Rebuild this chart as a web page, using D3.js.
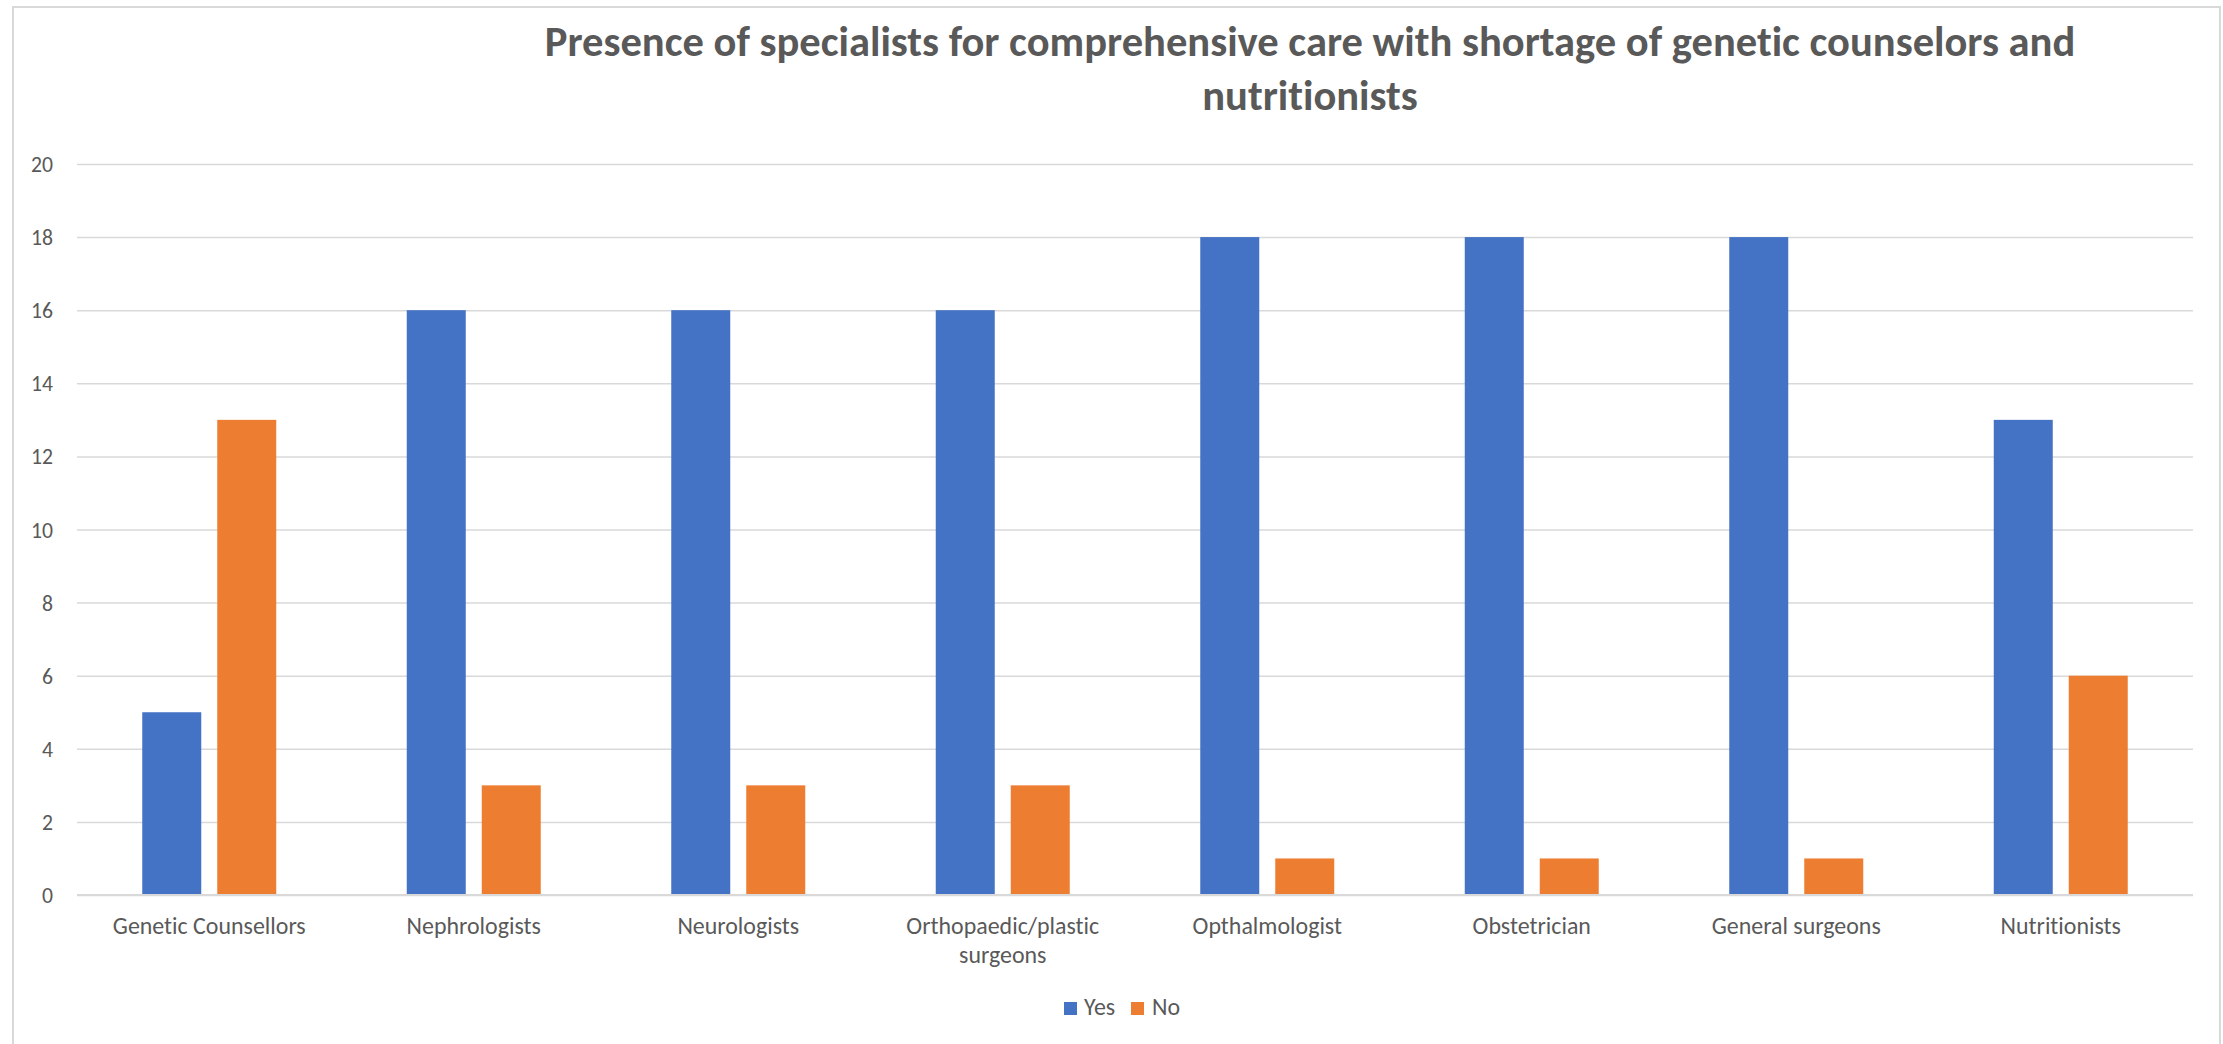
<!DOCTYPE html>
<html>
<head>
<meta charset="utf-8">
<script src="https://cdn.jsdelivr.net/npm/d3@7"></script>
<style>
  html, body { margin: 0; padding: 0; background: #ffffff; }
  svg { display: block; }
  svg text { font-variant-ligatures: none; font-feature-settings: "liga" 0, "clig" 0; }
</style>
</head>
<body>
<svg id="chart" width="2223" height="1044"></svg>
<script>
// ---- data ----
const categories = ["Genetic Counsellors", "Nephrologists", "Neurologists", "Orthopaedic/plastic surgeons", "Opthalmologist", "Obstetrician", "General surgeons", "Nutritionists"];
const seriesNames = ["Yes", "No"];
const yesValues = [5, 16, 16, 16, 18, 18, 18, 13];
const noValues = [13, 3, 3, 3, 1, 1, 1, 6];
const yTicks = [0, 2, 4, 6, 8, 10, 12, 14, 16, 18, 20];
const titleLines = ["Presence of specialists for comprehensive care with shortage of genetic counselors and", "nutritionists"];

// ---- layout / style ----
const W = 2223, H = 1044;
const plot = { left: 77, right: 2193, top: 164, bottom: 895 };
const colors = { Yes: "#4472C4", No: "#ED7D31" };
const textColor = "#595959";
const gridColor = "#d9d9d9";
const FONT = "Carlito, Calibri, Lato, 'Open Sans', sans-serif";

const svg = d3.select("#chart");

// chart border
svg.append("rect")
  .attr("x", 13).attr("y", 7).attr("width", 2207).attr("height", 1060)
  .attr("fill", "#ffffff").attr("stroke", gridColor).attr("stroke-width", 2);

// helper: scale font size so a given sample text matches a target width
function fitSize(text, weight, baseSize, targetWidth) {
  const t = svg.append("text").attr("font-family", FONT).attr("font-weight", weight)
    .attr("font-size", baseSize).text(text);
  const w = t.node().getComputedTextLength();
  t.remove();
  return baseSize * targetWidth / w;
}

const titleSize = Math.min(44, fitSize(titleLines[0], "bold", 40, 1531));
const labelSize = Math.min(24, fitSize("Genetic Counsellors", "normal", 20, 193));
const tickSize = Math.min(24, fitSize("20", "normal", 20, 22));

// ---- scales ----
const data = categories.map((c, i) => ({ cat: c, Yes: yesValues[i], No: noValues[i] }));

const x0 = d3.scaleBand().domain(categories).range([plot.left, plot.right])
  .paddingInner(0.4934).paddingOuter(0.2467);
const x1 = d3.scaleBand().domain(seriesNames).range([0, x0.bandwidth()])
  .paddingInner(0.2133).paddingOuter(0);
const y = d3.scaleLinear().domain([0, 20]).range([plot.bottom, plot.top]);

// ---- grid ----
const yAxis = d3.axisLeft(y).tickValues(yTicks).tickSize(-(plot.right - plot.left)).tickPadding(24).tickFormat(d3.format("d"));
const gy = svg.append("g").attr("transform", `translate(${plot.left},0)`).call(yAxis);
gy.select(".domain").remove();
gy.selectAll(".tick line").attr("stroke", gridColor).attr("stroke-width", 1.5);
gy.selectAll(".tick text").attr("fill", textColor).attr("font-family", FONT)
  .attr("font-size", tickSize).attr("x", 53 - plot.left).attr("dy", "0.35em");

// ---- bars ----
const groups = svg.append("g").selectAll("g").data(data).join("g")
  .attr("transform", d => `translate(${x0(d.cat)},0)`);
groups.selectAll("rect").data(d => seriesNames.map(s => ({ s, v: d[s] }))).join("rect")
  .attr("x", d => x1(d.s))
  .attr("width", x1.bandwidth())
  .attr("y", d => y(d.v))
  .attr("height", d => y(0) - y(d.v))
  .attr("fill", d => colors[d.s]);

// baseline
svg.append("line").attr("x1", plot.left).attr("x2", plot.right)
  .attr("y1", y(0)).attr("y2", y(0)).attr("stroke", gridColor).attr("stroke-width", 2);

// ---- x axis labels ----
const xAxis = d3.axisBottom(x0).tickSize(0).tickPadding(0);
const gx = svg.append("g").attr("transform", `translate(0,${plot.bottom})`).call(xAxis);
gx.select(".domain").remove();
gx.selectAll(".tick text").attr("fill", textColor).attr("font-family", FONT)
  .attr("font-size", labelSize).attr("y", 0).attr("dy", null)
  .each(function(d) {
    const el = d3.select(this);
    const words = d.split(" ");
    el.text(null);
    const maxW = 215;
    let lines = [], line = [];
    const probe = el.append("tspan");
    words.forEach(w => {
      const trial = line.concat(w).join(" ");
      probe.text(trial);
      if (probe.node().getComputedTextLength() > maxW && line.length) {
        lines.push(line.join(" ")); line = [w];
      } else line.push(w);
    });
    lines.push(line.join(" "));
    probe.remove();
    lines.forEach((l, i) => {
      el.append("tspan").attr("x", 0).attr("y", 39 + i * 29).text(l);
    });
  });

// ---- title ----
svg.append("text").attr("x", 1310).attr("y", 56).attr("text-anchor", "middle")
  .attr("font-family", FONT).attr("font-weight", "bold").attr("font-size", titleSize)
  .attr("fill", textColor)
  .selectAll("tspan").data(titleLines).join("tspan")
  .attr("x", 1310).attr("y", (d, i) => 56 + i * 54).text(d => d);

// ---- legend ----
const legendItems = [
  { name: "Yes", sx: 1064, tx: 1084 },
  { name: "No", sx: 1131, tx: 1152 }
];
const lg = svg.append("g");
lg.selectAll("rect").data(legendItems).join("rect")
  .attr("x", d => d.sx).attr("y", 1002).attr("width", 13).attr("height", 13)
  .attr("fill", d => colors[d.name]);
lg.selectAll("text").data(legendItems).join("text")
  .attr("x", d => d.tx).attr("y", 1015)
  .attr("font-family", FONT).attr("font-size", labelSize).attr("fill", textColor)
  .text(d => d.name);
</script>
</body>
</html>
